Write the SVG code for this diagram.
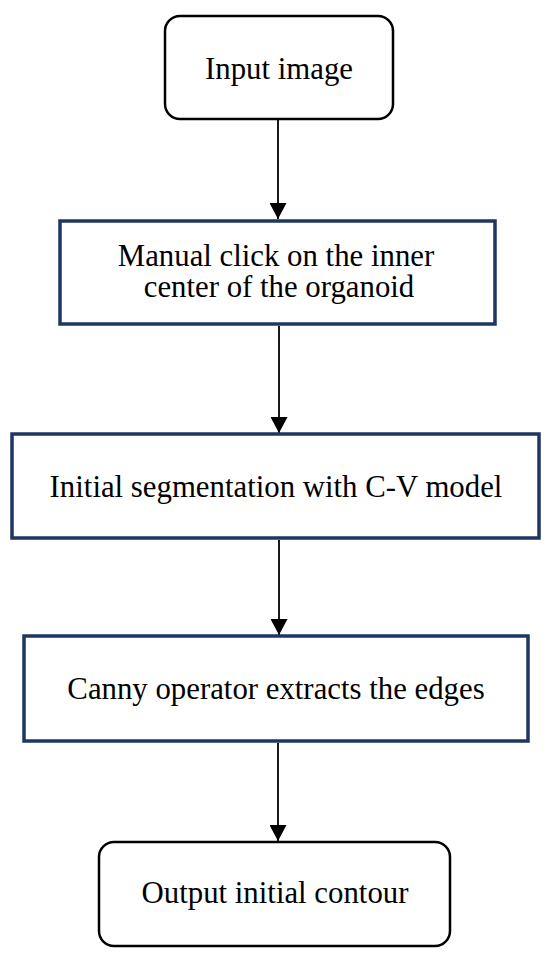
<svg xmlns="http://www.w3.org/2000/svg" width="550" height="959" viewBox="0 0 550 959">
<style>
.bg{fill:#ffffff}
.term{fill:#ffffff;stroke:#000000;stroke-width:2.5}
.proc{fill:#ffffff;stroke:#1f3660;stroke-width:3.5}
.lbl{font-family:"Liberation Serif","Times New Roman",serif;font-size:30.8px;fill:#000000;text-anchor:middle}
.edge{stroke:#000000;stroke-width:1.8;fill:none;marker-end:url(#arr)}
</style>
<defs>
<marker id="arr" markerWidth="17" markerHeight="17" refX="16" refY="8.5" orient="auto" markerUnits="userSpaceOnUse">
<path d="M0,0 L16,8.5 L0,17 Z" fill="#000000"/>
</marker>
</defs>
<rect class="bg" x="0" y="0" width="550" height="959"/>
<g id="connectors">
<line class="edge" x1="278" y1="120" x2="278" y2="219"/>
<line class="edge" x1="279" y1="326" x2="279" y2="433"/>
<line class="edge" x1="279" y1="540" x2="279" y2="635"/>
<line class="edge" x1="278" y1="743" x2="278" y2="841"/>
</g>
<g id="n1">
<rect class="term" x="165" y="16" width="228" height="103" rx="15" ry="15"/>
<text class="lbl" x="279" y="79">Input image</text>
</g>
<g id="n2">
<rect class="proc" x="60" y="221" width="435" height="103"/>
<text class="lbl" x="276" y="266">Manual click on the inner</text>
<text class="lbl" x="279" y="297">center of the organoid</text>
</g>
<g id="n3">
<rect class="proc" x="12" y="434" width="527" height="104"/>
<text class="lbl" x="276" y="497">Initial segmentation with C-V model</text>
</g>
<g id="n4">
<rect class="proc" x="24" y="636" width="504" height="105"/>
<text class="lbl" x="276" y="699">Canny operator extracts the edges</text>
</g>
<g id="n5">
<rect class="term" x="99" y="842" width="351" height="104" rx="15" ry="15"/>
<text class="lbl" x="275" y="903">Output initial contour</text>
</g>
</svg>
